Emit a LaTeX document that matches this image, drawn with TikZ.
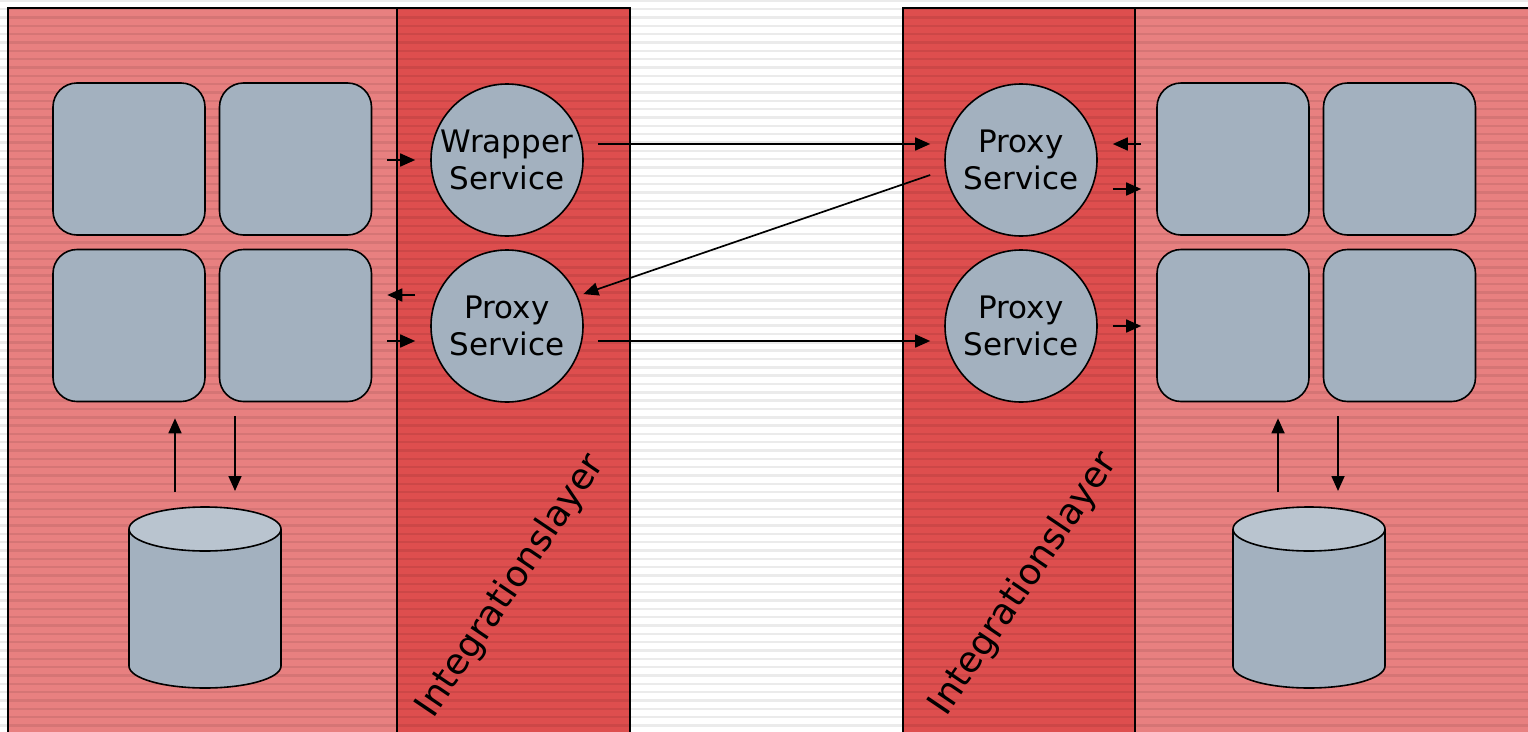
\documentclass[tikz,border=0pt]{standalone}
\usepackage{fontspec}
\setmainfont{DejaVu Sans}
\usetikzlibrary{arrows.meta}
\definecolor{panelpink}{HTML}{E88080}
\definecolor{layerred}{HTML}{DE4E4E}
\definecolor{boxgray}{HTML}{A3B1BF}
\definecolor{cyltop}{HTML}{B9C4CF}
\tikzset{
  box/.style={draw, line width=1.6pt, fill=boxgray, rounded corners=24pt,
    minimum width=152pt, minimum height=152pt, inner sep=0pt},
  svc/.style={draw, line width=1.6pt, fill=boxgray, circle, minimum size=152pt,
    inner sep=0pt, align=center, font=\fontsize{31}{37}\selectfont},
  arr/.style={line width=1.7pt, -{Triangle[length=15pt,width=13pt]}},
  edge/.style={line width=2pt},
  layertext/.style={font=\fontsize{36}{40}\selectfont, rotate=56},
  dbcyl/.pic={
    \filldraw[fill=boxgray, line width=1.6pt] (0,137) ellipse [x radius=76pt, y radius=22pt];
    \fill[boxgray] (-76,0) rectangle (76,137);
    \draw[line width=1.6pt] (-76,0) -- (-76,137) (76,0) -- (76,137);
    \filldraw[fill=cyltop, line width=1.6pt] (0,0) ellipse [x radius=76pt, y radius=22pt];
    \coordinate (-top) at (0,-22);
  }
}
\begin{document}
\begin{tikzpicture}[x=1pt,y=-1pt]
\useasboundingbox (0,0) rectangle (1528,731);
\clip (0,0) rectangle (1528,731);
% background and the four vertical bands
\fill[white] (0,0) rectangle (1528,731);
\fill[panelpink] (8,8) rectangle (397,760);
\fill[layerred] (397,8) rectangle (630,760);
\fill[layerred] (903,8) rectangle (1135,760);
\fill[panelpink] (1135,8) rectangle (1560,760);
% horizontal scan lines
\foreach \i in {0,...,88}
  \draw[black, opacity=0.08, line width=2.4pt] (0,{0.8+8.33*\i}) -- (1528,{0.8+8.33*\i});
% band outlines
\draw[edge] (8,760) -- (8,8) -- (630,8) -- (630,760);
\draw[edge] (397,8) -- (397,760);
\draw[edge] (1560,8) -- (903,8) -- (903,760);
\draw[edge] (1135,8) -- (1135,760);

% left application components
\node[box] (a1) at (129,159) {};
\node[box] (a2) at (295.5,159) {};
\node[box] (a3) at (129,325.5) {};
\node[box] (a4) at (295.5,325.5) {};
% right application components
\node[box] (b1) at (1233,159) {};
\node[box] (b2) at (1399.5,159) {};
\node[box] (b3) at (1233,325.5) {};
\node[box] (b4) at (1399.5,325.5) {};

% services of the integration layers
\node[svc] (w)   at (507,160)  {Wrapper\\Service};
\node[svc] (lp)  at (507,326)  {Proxy\\Service};
\node[svc] (rp1) at (1021,160) {Proxy\\Service};
\node[svc] (rp2) at (1021,326) {Proxy\\Service};

% databases
\pic (c1) at (205,529) {dbcyl};
\pic (c2) at (1309,529) {dbcyl};

% layer labels
\node[layertext] (t1) at (511,586) {Integrationslayer};
\node[layertext] (t2) at (1024,584) {Integrationslayer};

% left side: components <-> services
\draw[arr, shorten <=15pt, shorten >=15pt] (a2.east |- w.west) -- (w.west);
\coordinate (lpin) at ([yshift=31pt]lp.west);
\coordinate (lpout) at ([yshift=-15pt]lp.west);
\draw[arr, shorten <=15pt, shorten >=15pt] (lpin) -- (a4.east |- lpin);
\draw[arr, shorten <=15pt, shorten >=15pt] (a4.east |- lpout) -- (lpout);

% between the two integration layers
\draw[arr, shorten <=14pt, shorten >=14pt] ([yshift=16pt]w.east) -- ([yshift=16pt]rp1.west);
\draw[arr, shorten <=14pt, shorten >=14pt] ([yshift=-15pt]lp.east) -- ([yshift=-15pt]rp2.west);
\draw[arr, shorten >=6pt] ([xshift=-14pt,yshift=-15pt]rp1.west) -- (lp.23);

% right side: services <-> components
\coordinate (r1in) at ([yshift=16pt]rp1.east);
\coordinate (r1out) at ([yshift=-29pt]rp1.east);
\draw[arr, shorten <=15pt, shorten >=15pt] (b1.west |- r1in) -- (r1in);
\draw[arr, shorten <=15pt, shorten >=15pt] (r1out) -- (b1.west |- r1out);
\draw[arr, shorten <=15pt, shorten >=15pt] (rp2.east) -- (b3.west |- rp2.east);

% components <-> databases
\coordinate (c1up) at ([xshift=-30pt]c1-top);
\coordinate (c1dn) at ([xshift=30pt]c1-top);
\draw[arr, shorten <=15pt, shorten >=16pt] (c1up) -- (c1up |- a3.south);
\draw[arr, shorten <=14pt, shorten >=16pt] (c1dn |- a4.south) -- (c1dn);
\coordinate (c2up) at ([xshift=-31pt]c2-top);
\coordinate (c2dn) at ([xshift=29pt]c2-top);
\draw[arr, shorten <=15pt, shorten >=16pt] (c2up) -- (c2up |- b3.south);
\draw[arr, shorten <=14pt, shorten >=16pt] (c2dn |- b4.south) -- (c2dn);
\end{tikzpicture}
\end{document}
